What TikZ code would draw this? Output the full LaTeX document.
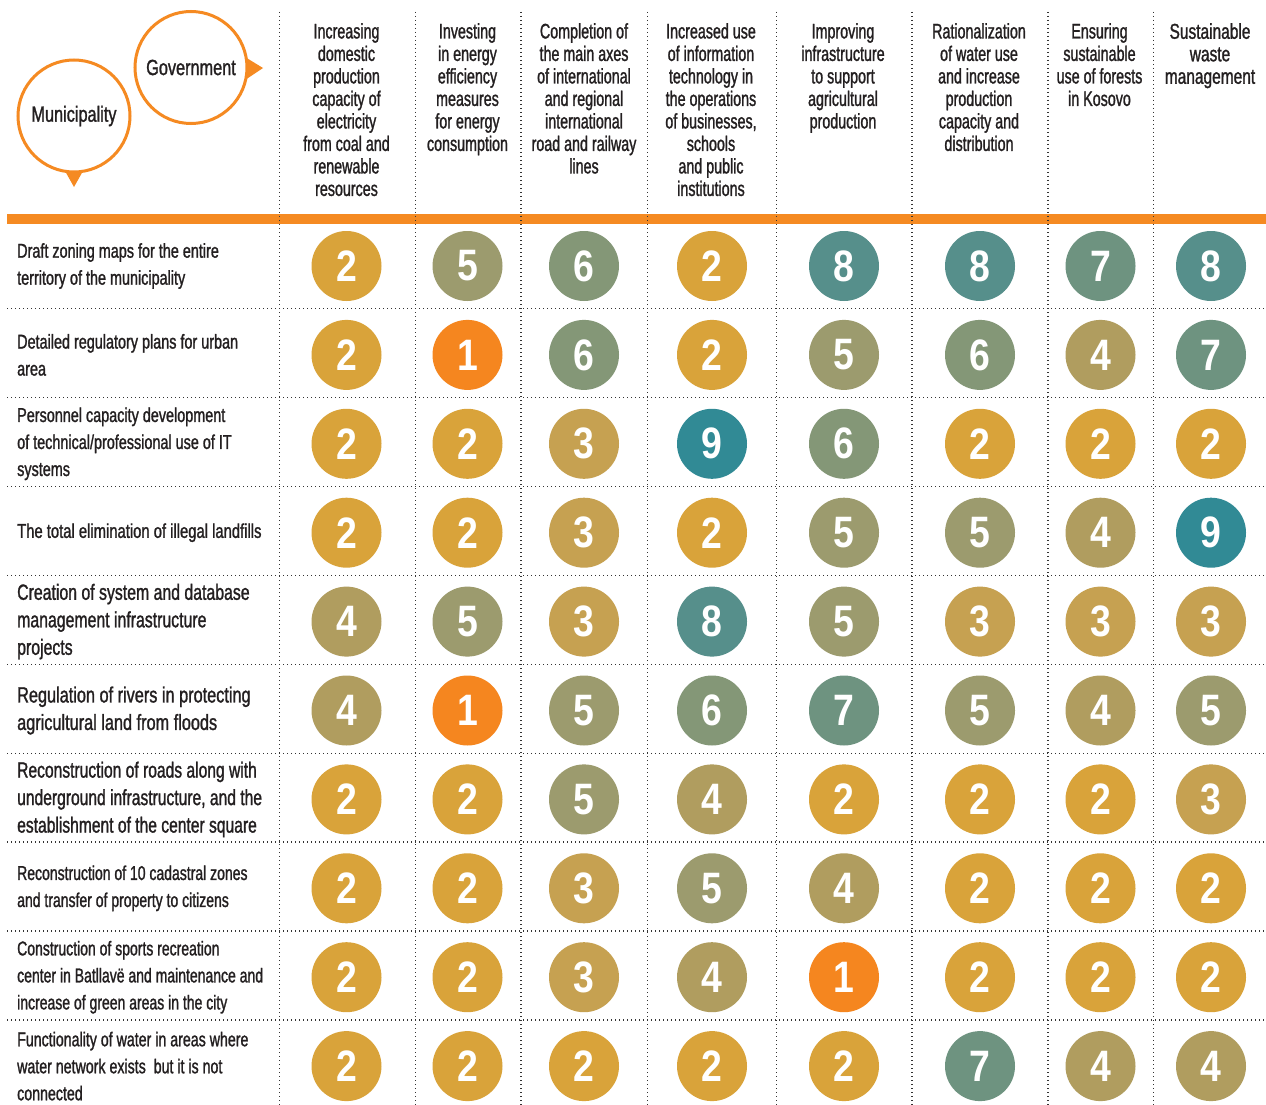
\documentclass[tikz,border=0pt]{standalone}
\usepackage{fontspec}
\setmainfont[FakeStretch=0.68,FakeBold=1.2]{Liberation Sans}
\newfontfamily\lsA[FakeStretch=0.70,FakeBold=1.2]{Liberation Sans}
\newfontfamily\lsAA[FakeStretch=0.71,FakeBold=1.2]{Liberation Sans}
\newfontfamily\lsB[FakeStretch=0.72,FakeBold=1.2]{Liberation Sans}
\newfontfamily\lsC[FakeStretch=0.74,FakeBold=1.2]{Liberation Sans}
\newfontfamily\numfont[FakeStretch=0.85]{Liberation Sans}
\newfontfamily\circfont[FakeStretch=0.74,FakeBold=1.2]{Liberation Sans}
\definecolor{c1}{HTML}{F5861F}
\definecolor{c2}{HTML}{D9A33A}
\definecolor{c3}{HTML}{C6A151}
\definecolor{c4}{HTML}{B09D5F}
\definecolor{c5}{HTML}{9C9B6E}
\definecolor{c6}{HTML}{849777}
\definecolor{c7}{HTML}{6E9380}
\definecolor{c8}{HTML}{568F8B}
\definecolor{c9}{HTML}{318A95}
\definecolor{obar}{HTML}{F58A22}
\definecolor{dotc}{HTML}{333333}
\definecolor{txt}{HTML}{231F20}
\tikzset{
  numc/.style={circle, minimum size=70pt, inner sep=0pt, text=white, font=\numfont\bfseries\fontsize{44}{44}\selectfont},
  hdr/.style={anchor=north, align=center, inner sep=0pt, text=txt, font=\fontsize{21}{22.5}\selectfont},
  lab/.style={anchor=west, align=left, inner sep=0pt, text=txt},
  labs/.style={lab, font=\fontsize{20}{27}\selectfont},
  labl/.style={lab, font=\fontsize{22}{27.5}\selectfont},
  grid/.style={dotc, line width=1.3pt, dash pattern=on 1.3pt off 2.7pt},
  bubble/.style={circle, draw=obar, line width=3pt, fill=white, minimum size=112pt, inner sep=0pt, text=txt, font=\circfont\fontsize{22}{22}\selectfont}
}
\begin{document}
\begin{tikzpicture}[x=1pt, y=-1pt]
\useasboundingbox (0,0) rectangle (1266,1105);
\fill[white] (0,0) rectangle (1266,1105);
% bubbles
\fill[obar] (65,171) -- (83,171) -- (74,187) -- cycle;
\fill[obar] (245,57) -- (263,68) -- (245,80) -- cycle;
\node[bubble] (muni) at (74,116) {Municipality};
\node[bubble] (gov) at (191,67.5) {Government};
% orange bar
\fill[obar] (7,214) rectangle (1266,224);
% grid
\foreach \x in {279.5,415.5,521,647.5,776.5,912,1048,1153.5}
  \draw[grid] (\x,12) -- (\x,1105);
\foreach \k in {0,...,8}
  \draw[grid] (7,308.7+88.9*\k) -- (1266,308.7+88.9*\k);
% headers
\node[hdr] (h1) at (346.5,23) {Increasing\\domestic\\production\\capacity of\\electricity\\from coal and\\renewable\\resources};
\node[hdr] (h2) at (467.5,23) {Investing\\in energy\\efficiency\\measures\\for energy\\consumption};
\node[hdr] (h3) at (584,23) {Completion of\\the main axes\\of international\\and regional\\international\\road and railway\\lines};
\node[hdr] (h4) at (711,23) {Increased use\\of information\\technology in\\the operations\\of businesses,\\schools\\and public\\institutions};
\node[hdr] (h5) at (843,23) {Improving\\infrastructure\\to support\\agricultural\\production};
\node[hdr] (h6) at (979,23) {Rationalization\\of water use\\and increase\\production\\capacity and\\distribution};
\node[hdr] (h7) at (1099.5,23) {Ensuring\\sustainable\\use of forests\\in Kosovo};
\node[hdr, font=\lsB\fontsize{21.5}{22.5}\selectfont] (h8) at (1210,23) {Sustainable\\waste\\management};
% row labels
\node[labs, font=\lsB\fontsize{20}{27}\selectfont] (l1) at (17,266) {Draft zoning maps for the entire\\territory of the municipality};
\node[labs, font=\lsB\fontsize{20}{27}\selectfont] (l2) at (17,354.9) {Detailed regulatory plans for urban\\area};
\node[labs, font=\lsB\fontsize{20}{27}\selectfont] (l3) at (17,443.8) {Personnel capacity development\\of technical/professional use of IT\\systems};
\node[labs, font=\lsC\fontsize{20}{27}\selectfont] (l4) at (17,532.7) {The total elimination of illegal landfills};
\node[labl, font=\lsB\fontsize{22}{27.5}\selectfont] (l5) at (17,621.6) {Creation of system and database\\management infrastructure\\projects};
\node[labl, font=\lsC\fontsize{22}{27.5}\selectfont] (l6) at (17,710.5) {Regulation of rivers in protecting\\agricultural land from floods};
\node[labl, font=\lsAA\fontsize{22}{27.5}\selectfont] (l7) at (17,799.4) {Reconstruction of roads along with\\underground infrastructure, and the\\establishment of the center square};
\node[labs, font=\lsA\fontsize{20}{27}\selectfont] (l8) at (17,888.3) {Reconstruction of 10 cadastral zones\\and transfer of property to citizens};
\node[labs, font=\lsA\fontsize{20}{27}\selectfont] (l9) at (17,977.2) {Construction of sports recreation\\center in Batllavë and maintenance and\\increase of green areas in the city};
\node[labs, font=\lsAA\fontsize{20}{27}\selectfont] (l10) at (17,1066.1) {Functionality of water in areas where\\water network exists\ \ but it is not\\connected};
% circles
\foreach \vals [count=\r] in {{2,5,6,2,8,8,7,8},{2,1,6,2,5,6,4,7},{2,2,3,9,6,2,2,2},{2,2,3,2,5,5,4,9},{4,5,3,8,5,3,3,3},{4,1,5,6,7,5,4,5},{2,2,5,4,2,2,2,3},{2,2,3,5,4,2,2,2},{2,2,3,4,1,2,2,2},{2,2,2,2,2,7,4,4}} {
  \foreach \v [count=\c] in \vals {
    \pgfmathsetmacro\cx{{346.5,467.5,584,712,844,980,1100.5,1211}[\c-1]}
    \pgfmathsetmacro\cy{266+88.9*(\r-1)}
    \node[numc, fill=c\v] (n\r-\c) at (\cx,\cy) {\v};
  }
}
\end{tikzpicture}
\end{document}
